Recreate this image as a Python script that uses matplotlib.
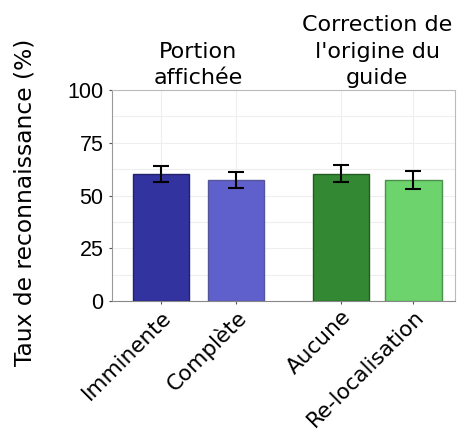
import matplotlib.pyplot as plt
import matplotlib.transforms as mtransforms
import numpy as np

categories = ['Imminente', 'Complète', 'Aucune', 'Re-localisation']
rates = [60.0, 57.5, 60.3, 57.3]
errors = [3.8, 3.8, 4.0, 4.2]
groups = ['Portion\naffichée', 'Correction de\nl\'origine du\nguide']

x = np.array([0, 1, 2.4, 3.37])
colors = ['#3333a0', '#6060cc', '#338833', '#6dd46d']
edges = ['#22226a', '#555599', '#225c22', '#4a8f4a']

fig = plt.figure(figsize=(4.6, 4.34), dpi=100)
ax = fig.add_axes([0.243, 0.306, 0.746, 0.487])

ax.bar(x, rates, width=0.75, color=colors, edgecolor=edges, linewidth=1, zorder=3)
ax.errorbar(x, rates, yerr=errors, fmt='none', ecolor='black',
            elinewidth=1.5, capsize=6, capthick=1.5, zorder=4)

ax.set_ylim(0, 100)
ax.set_xlim(-0.653, 3.924)
ax.set_yticks([0, 25, 50, 75, 100])
ax.set_yticks(np.arange(0, 100, 12.5), minor=True)
ax.set_xticks(x)
ax.set_xticklabels(categories, rotation=45, ha='right', rotation_mode='anchor',
                   fontsize=15.5, family='DejaVu Sans')
# nudge the rotated labels a little left and down
shift = mtransforms.ScaledTranslation(-0.04, -0.02, fig.dpi_scale_trans)
for lab in ax.get_xticklabels():
    lab.set_transform(lab.get_transform() + shift)
for lab in ax.get_yticklabels():
    lab.set_family('Liberation Sans')
    lab.set_fontsize(15.5)
ax.tick_params(axis='y', which='minor', length=0)
ax.tick_params(axis='both', which='major', color='#555555', length=2.5, pad=3.5)
ax.tick_params(axis='x', pad=1.5)

ax.grid(True, which='both', color='#eeeeee', linewidth=0.8, zorder=0)
for s in ax.spines.values():
    s.set_color('#bbbbbb')
ax.spines['left'].set_color('#999999')
ax.spines['bottom'].set_color('#888888')

ax.set_ylabel('Taux de reconnaissance (%)', fontsize=16.8)
ax.yaxis.set_label_coords(-0.218, 0.47)

ax.text((x[0] + x[1]) / 2, 100.8, groups[0], ha='center', va='bottom',
        fontsize=16, linespacing=1.4)
ax.text((x[2] + x[3]) / 2, 100.8, groups[1], ha='center', va='bottom',
        fontsize=16, linespacing=1.4)

fig.savefig('out.png', dpi=100)
